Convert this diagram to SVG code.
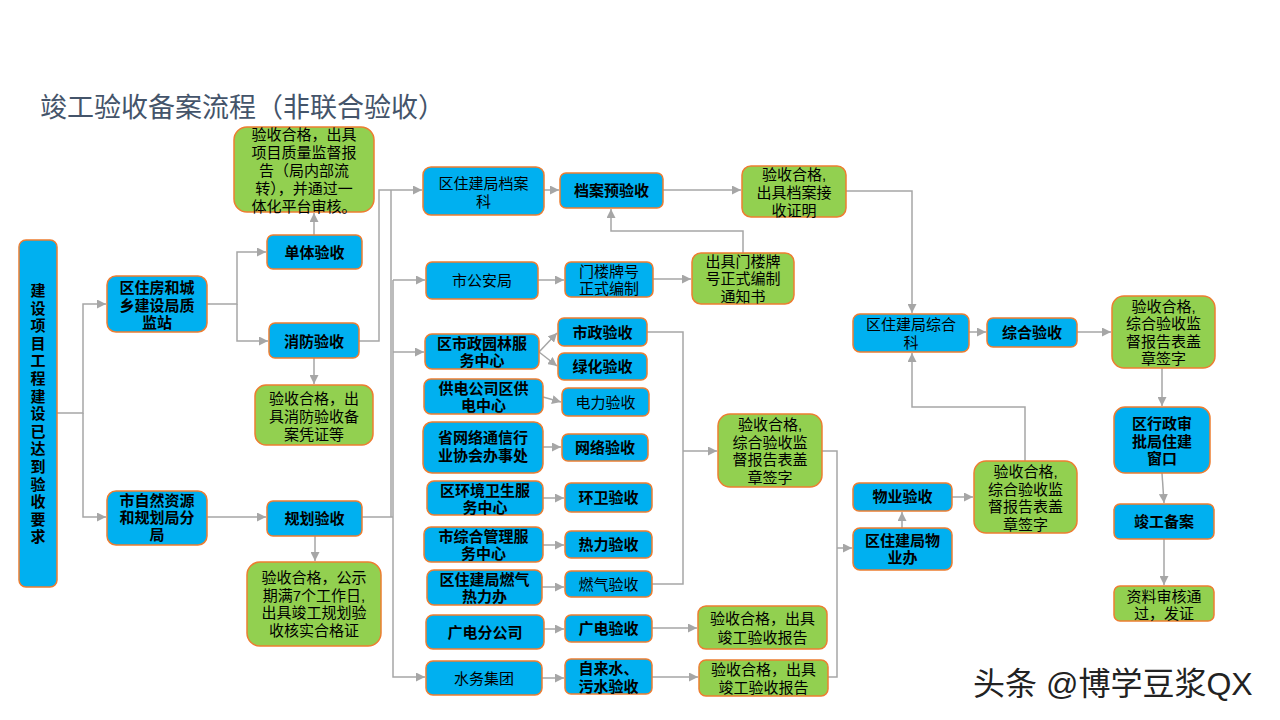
<svg xmlns="http://www.w3.org/2000/svg" width="1280" height="720" viewBox="0 0 1280 720">
<defs>
<marker id="a" viewBox="0 0 10 10" refX="10" refY="5" markerWidth="9" markerHeight="9" orient="auto" markerUnits="userSpaceOnUse"><path d="M0,0 L10,5 L0,10 z" fill="#A6A6A6"/></marker>
<style>
.b{fill:#00B0F0;stroke:#ED7D31;stroke-width:1.5}
.g{fill:#92D050;stroke:#ED7D31;stroke-width:1.5}
text{font-family:"Liberation Sans","Noto Sans CJK SC",sans-serif;font-size:15px;fill:#000;text-anchor:middle;dominant-baseline:central}
.k{font-weight:bold}
.c path{fill:none;stroke:#A6A6A6;stroke-width:1.5}
.m{marker-end:url(#a)}
</style>
</defs>
<rect width="1280" height="720" fill="#fff"/>
<text x="40" y="108" style="font-size:27px;fill:#44546A;text-anchor:start">竣工验收备案流程（非联合验收）</text>

<g class="c" id="connectors">
<path class="m" d="M57,413 H83 V304 H106"/>
<path class="m" d="M83,413 V517 H106"/>
<path class="m" d="M207,304 H237 V252 H266"/>
<path class="m" d="M237,304 V341 H268"/>
<path class="m" d="M314,235 V213"/>
<path class="m" d="M314,358 V384"/>
<path class="m" d="M207,517 H266"/>
<path class="m" d="M315,536 V561"/>
<path class="m" d="M359,341 H379 V190 H422"/>
<path d="M362,517 H393"/>
<path d="M391,517 V190"/>
<path class="m" d="M393,280 V677 H425"/>
<path class="m" d="M393,280 H425"/>
<path class="m" d="M393,352 H424"/>
<path class="m" d="M544,190 H559"/>
<path class="m" d="M663,190 H741"/>
<path class="m" d="M743,253 V231 H611 V209"/>
<path class="m" d="M538,280 H564"/>
<path class="m" d="M653,279 H691"/>
<path class="m" d="M846,191 H912 V313"/>
<path class="m" d="M539,352 L557,333"/>
<path class="m" d="M539,352 L557,366"/>
<path class="m" d="M543,397 L561,402"/>
<path class="m" d="M543,447 H561"/>
<path class="m" d="M543,498 H564"/>
<path class="m" d="M543,545 H564"/>
<path class="m" d="M542,587 H564"/>
<path class="m" d="M544,629 H564"/>
<path class="m" d="M542,678 H564"/>
<path d="M647,332 H683 V584 H652"/>
<path class="m" d="M683,451 H717"/>
<path class="m" d="M652,628 H697"/>
<path class="m" d="M652,677 H698"/>
<path d="M822,451 H837 V677 H828"/>
<path class="m" d="M837,548 H852"/>
<path class="m" d="M902,528 V512"/>
<path class="m" d="M952,497 H973"/>
<path class="m" d="M1025,461 V407 H912 V353"/>
<path class="m" d="M969,332 H986"/>
<path class="m" d="M1077,332 H1111"/>
<path class="m" d="M1162,368 V406"/>
<path class="m" d="M1162,473 L1164,503"/>
<path class="m" d="M1164,539 V585"/>
</g>

<g id="n1"><rect class="b" x="19" y="240" width="38" height="347" rx="7"/>
<text class="k" x="38" y="290"><tspan x="38">建</tspan><tspan x="38" dy="17.6">设</tspan><tspan x="38" dy="17.6">项</tspan><tspan x="38" dy="17.6">目</tspan><tspan x="38" dy="17.6">工</tspan><tspan x="38" dy="17.6">程</tspan><tspan x="38" dy="17.6">建</tspan><tspan x="38" dy="17.6">设</tspan><tspan x="38" dy="17.6">已</tspan><tspan x="38" dy="17.6">达</tspan><tspan x="38" dy="17.6">到</tspan><tspan x="38" dy="17.6">验</tspan><tspan x="38" dy="17.6">收</tspan><tspan x="38" dy="17.6">要</tspan><tspan x="38" dy="17.6">求</tspan></text></g>

<g id="n2"><rect class="b" x="107" y="276" width="100" height="56" rx="9"/>
<text class="k"><tspan x="157" y="287">区住房和城</tspan><tspan x="157" y="304.5">乡建设局质</tspan><tspan x="157" y="322">监站</tspan></text></g>

<g id="n3"><rect class="b" x="267" y="235" width="95" height="34" rx="6"/><text class="k" x="314.5" y="252">单体验收</text></g>
<g id="n4"><rect class="b" x="269" y="323" width="90" height="35" rx="6"/><text class="k" x="314" y="341">消防验收</text></g>

<g id="n5"><rect class="g" x="234" y="127" width="140" height="85" rx="13"/>
<text><tspan x="304" y="134">验收合格，出具</tspan><tspan x="304" y="152">项目质量监督报</tspan><tspan x="304" y="170">告（局内部流</tspan><tspan x="304" y="188">转），并通过一</tspan><tspan x="304" y="206">体化平台审核。</tspan></text></g>

<g id="n6"><rect class="g" x="255" y="385" width="118" height="60" rx="11"/>
<text><tspan x="314" y="398">验收合格，出</tspan><tspan x="314" y="416">具消防验收备</tspan><tspan x="314" y="434">案凭证等</tspan></text></g>

<g id="n7"><rect class="b" x="107" y="491" width="100" height="54" rx="9"/>
<text class="k"><tspan x="157" y="500">市自然资源</tspan><tspan x="157" y="517">和规划局分</tspan><tspan x="157" y="534">局</tspan></text></g>

<g id="n8"><rect class="b" x="267" y="501" width="95" height="35" rx="6"/><text class="k" x="314.5" y="518">规划验收</text></g>

<g id="n9"><rect class="g" x="247" y="562" width="134" height="84" rx="13"/>
<text><tspan x="314" y="577">验收合格，公示</tspan><tspan x="314" y="594.5">期满7个工作日,</tspan><tspan x="314" y="612">出具竣工规划验</tspan><tspan x="314" y="629.5">收核实合格证</tspan></text></g>

<g id="n10"><rect class="b" x="423" y="167" width="121" height="48" rx="8"/>
<text><tspan x="483.5" y="183">区住建局档案</tspan><tspan x="483.5" y="201">科</tspan></text></g>
<g id="n11"><rect class="b" x="560" y="173" width="103" height="35" rx="6"/><text class="k" x="611.5" y="190">档案预验收</text></g>
<g id="n12"><rect class="g" x="742" y="166" width="104" height="51" rx="9"/>
<text><tspan x="794" y="174">验收合格,</tspan><tspan x="794" y="192">出具档案接</tspan><tspan x="794" y="210">收证明</tspan></text></g>

<g id="n13"><rect class="b" x="426" y="262" width="112" height="37" rx="6"/><text x="482" y="280">市公安局</text></g>
<g id="n14"><rect class="b" x="565" y="262" width="88" height="35" rx="6"/><text><tspan x="609" y="271">门楼牌号</tspan><tspan x="609" y="288">正式编制</tspan></text></g>
<g id="n15"><rect class="g" x="692" y="253" width="102" height="51" rx="9"/>
<text><tspan x="743" y="260.5">出具门楼牌</tspan><tspan x="743" y="278">号正式编制</tspan><tspan x="743" y="295.5">通知书</tspan></text></g>

<g id="n16"><rect class="b" x="425" y="334" width="114" height="35" rx="7"/><text class="k"><tspan x="482" y="343">区市政园林服</tspan><tspan x="482" y="360">务中心</tspan></text></g>
<g id="n17"><rect class="b" x="558" y="318" width="89" height="28" rx="6"/><text class="k" x="602.5" y="332">市政验收</text></g>
<g id="n18"><rect class="b" x="558" y="353" width="89" height="27" rx="6"/><text class="k" x="602.5" y="366">绿化验收</text></g>
<g id="n19"><rect class="b" x="424" y="379" width="119" height="35" rx="7"/><text class="k"><tspan x="483.5" y="388">供电公司区供</tspan><tspan x="483.5" y="405">电中心</tspan></text></g>
<g id="n20"><rect class="b" x="562" y="388" width="87" height="28" rx="6"/><text x="605.5" y="402">电力验收</text></g>
<g id="n21"><rect class="b" x="423" y="422" width="120" height="51" rx="9"/><text class="k"><tspan x="483" y="437">省网络通信行</tspan><tspan x="483" y="455">业协会办事处</tspan></text></g>
<g id="n22"><rect class="b" x="562" y="434" width="86" height="27" rx="6"/><text class="k" x="605" y="447">网络验收</text></g>
<g id="n23"><rect class="b" x="427" y="481" width="116" height="34" rx="7"/><text class="k"><tspan x="485" y="489.5">区环境卫生服</tspan><tspan x="485" y="506.5">务中心</tspan></text></g>
<g id="n24"><rect class="b" x="565" y="483" width="87" height="29" rx="6"/><text class="k" x="608.5" y="497">环卫验收</text></g>
<g id="n25"><rect class="b" x="424" y="527" width="119" height="35" rx="7"/><text class="k"><tspan x="483.5" y="536">市综合管理服</tspan><tspan x="483.5" y="553">务中心</tspan></text></g>
<g id="n26"><rect class="b" x="565" y="531" width="87" height="27" rx="6"/><text class="k" x="608.5" y="544">热力验收</text></g>
<g id="n27"><rect class="b" x="427" y="570" width="115" height="35" rx="7"/><text class="k"><tspan x="484.5" y="578.5">区住建局燃气</tspan><tspan x="484.5" y="595.5">热力办</tspan></text></g>
<g id="n28"><rect class="b" x="565" y="571" width="87" height="26" rx="6"/><text x="608.5" y="584">燃气验收</text></g>
<g id="n29"><rect class="b" x="426" y="615" width="118" height="34" rx="7"/><text class="k" x="485" y="632">广电分公司</text></g>
<g id="n30"><rect class="b" x="565" y="615" width="87" height="27" rx="6"/><text class="k" x="608.5" y="628">广电验收</text></g>
<g id="n31"><rect class="b" x="426" y="661" width="116" height="34" rx="7"/><text x="484" y="678">水务集团</text></g>
<g id="n32"><rect class="b" x="565" y="659" width="87" height="35" rx="6"/><text class="k"><tspan x="608.5" y="668">自来水、</tspan><tspan x="608.5" y="685.5">污水验收</tspan></text></g>

<g id="n33"><rect class="g" x="718" y="414" width="104" height="73" rx="12"/>
<text><tspan x="770" y="424">验收合格,</tspan><tspan x="770" y="441.5">综合验收监</tspan><tspan x="770" y="459">督报告表盖</tspan><tspan x="770" y="476.5">章签字</tspan></text></g>
<g id="n34"><rect class="g" x="698" y="606" width="129" height="43" rx="8"/><text><tspan x="762.5" y="618">验收合格，出具</tspan><tspan x="762.5" y="637">竣工验收报告</tspan></text></g>
<g id="n35"><rect class="g" x="699" y="660" width="129" height="36" rx="7"/><text><tspan x="763.5" y="669">验收合格，出具</tspan><tspan x="763.5" y="687">竣工验收报告</tspan></text></g>

<g id="n36"><rect class="b" x="853" y="314" width="116" height="38" rx="7"/><text><tspan x="911" y="323.5">区住建局综合</tspan><tspan x="911" y="342">科</tspan></text></g>
<g id="n37"><rect class="b" x="987" y="318" width="90" height="29" rx="6"/><text class="k" x="1032" y="332">综合验收</text></g>
<g id="n38"><rect class="g" x="1112" y="296" width="103" height="72" rx="12"/>
<text><tspan x="1163.5" y="305.5">验收合格,</tspan><tspan x="1163.5" y="323">综合验收监</tspan><tspan x="1163.5" y="340.5">督报告表盖</tspan><tspan x="1163.5" y="358">章签字</tspan></text></g>
<g id="n39"><rect class="b" x="853" y="483" width="99" height="28" rx="6"/><text class="k" x="902.5" y="496">物业验收</text></g>
<g id="n40"><rect class="b" x="853" y="528" width="99" height="42" rx="7"/><text class="k"><tspan x="902.5" y="540">区住建局物</tspan><tspan x="902.5" y="557">业办</tspan></text></g>
<g id="n41"><rect class="g" x="974" y="461" width="103" height="72" rx="12"/>
<text><tspan x="1025.5" y="471">验收合格,</tspan><tspan x="1025.5" y="488.5">综合验收监</tspan><tspan x="1025.5" y="506">督报告表盖</tspan><tspan x="1025.5" y="523.5">章签字</tspan></text></g>
<g id="n42"><rect class="b" x="1114" y="407" width="96" height="66" rx="11"/>
<text class="k"><tspan x="1162" y="423">区行政审</tspan><tspan x="1162" y="440.5">批局住建</tspan><tspan x="1162" y="458">窗口</tspan></text></g>
<g id="n43"><rect class="b" x="1114" y="504" width="100" height="35" rx="6"/><text class="k" x="1164" y="521">竣工备案</text></g>
<g id="n44"><rect class="g" x="1114" y="586" width="100" height="35" rx="6"/><text><tspan x="1164" y="596">资料审核通</tspan><tspan x="1164" y="613">过，发证</tspan></text></g>

<text x="973" y="684" style="font-size:32px;fill:#222;text-anchor:start">头条 @博学豆浆QX</text>
</svg>
